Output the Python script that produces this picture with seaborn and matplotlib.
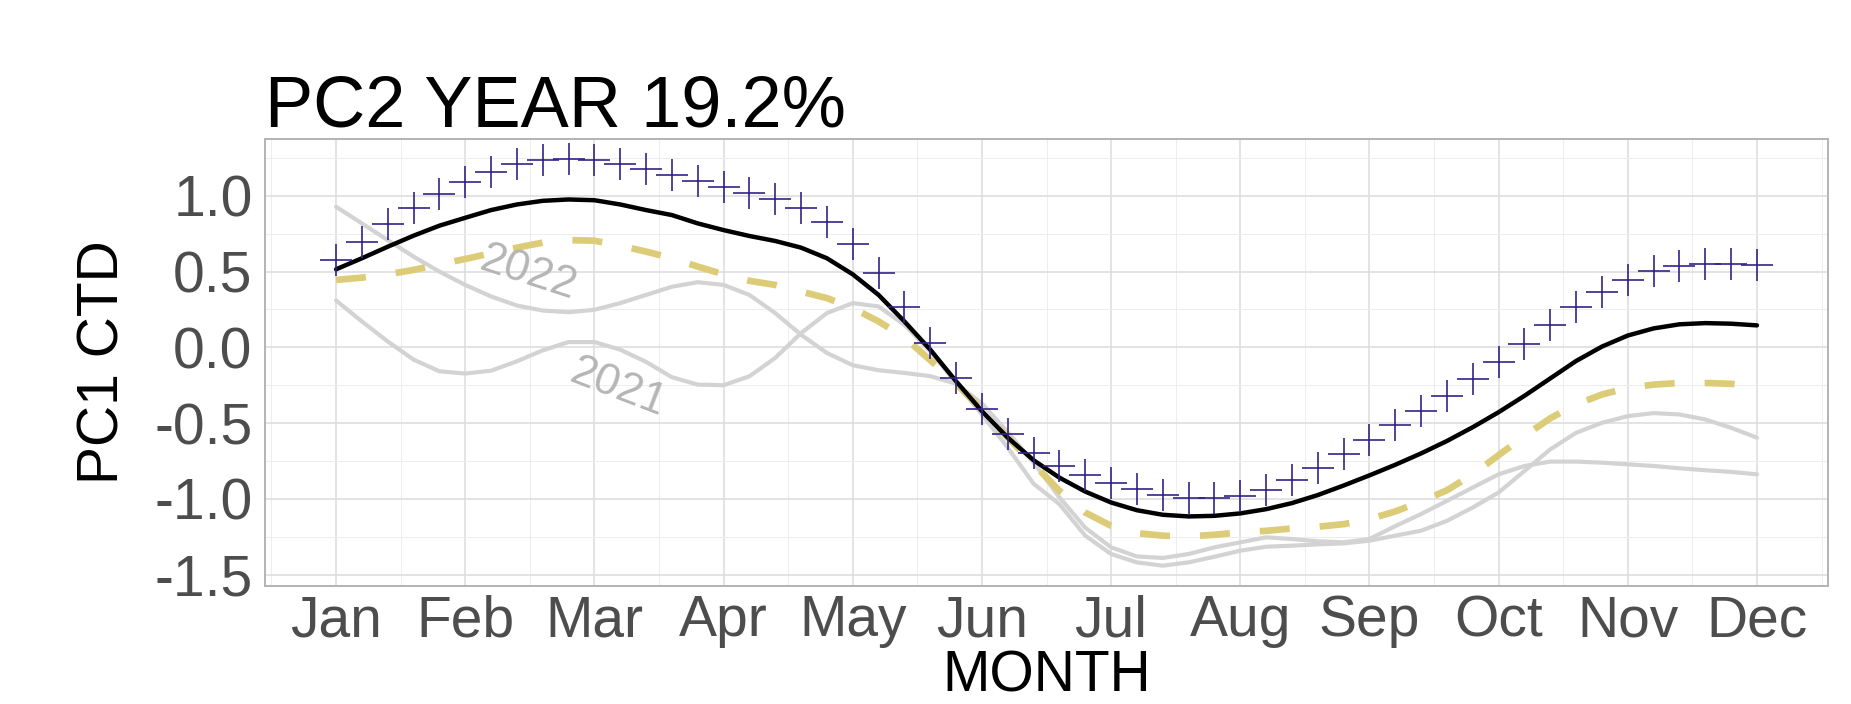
import numpy as np
import pandas as pd
import matplotlib
matplotlib.use("Agg")
import matplotlib.pyplot as plt
import seaborn as sns
from matplotlib.ticker import MultipleLocator

# month positions, 5 samples per month
month = np.round(np.arange(1, 12.01, 0.2), 1)
month_labels = ['Jan', 'Feb', 'Mar', 'Apr', 'May', 'Jun',
                'Jul', 'Aug', 'Sep', 'Oct', 'Nov', 'Dec']

# purple crosses
pc_cross = [0.577, 0.693, 0.811, 0.917, 1.011, 1.092, 1.158, 1.208, 1.235, 1.241,
            1.235, 1.213, 1.180, 1.140, 1.099, 1.059, 1.022, 0.976, 0.921, 0.829,
            0.684, 0.489, 0.265, 0.031, -0.202, -0.404, -0.570, -0.695, -0.783, -0.844,
            -0.893, -0.936, -0.974, -0.991, -0.991, -0.980, -0.941, -0.877, -0.794, -0.706,
            -0.612, -0.513, -0.421, -0.318, -0.206, -0.096, 0.022, 0.145, 0.265, 0.368,
            0.447, 0.504, 0.539, 0.553, 0.550, 0.546]

# black mean line
pc_mean = [0.515, 0.588, 0.664, 0.737, 0.803, 0.855, 0.906, 0.943, 0.967, 0.976,
           0.971, 0.943, 0.906, 0.873, 0.818, 0.774, 0.735, 0.702, 0.658, 0.588,
           0.482, 0.346, 0.171, -0.015, -0.224, -0.421, -0.596, -0.745, -0.860, -0.952,
           -1.024, -1.075, -1.105, -1.116, -1.112, -1.096, -1.068, -1.028, -0.975, -0.912,
           -0.845, -0.775, -0.700, -0.618, -0.527, -0.428, -0.320, -0.205, -0.090, 0.005,
           0.078, 0.125, 0.152, 0.160, 0.156, 0.145]

# yellow dashed line
pc_dash = [0.445, 0.460, 0.482, 0.511, 0.548, 0.583, 0.621, 0.658, 0.691, 0.708,
           0.704, 0.671, 0.632, 0.588, 0.533, 0.482, 0.439, 0.412, 0.368, 0.325,
           0.259, 0.171, 0.065, -0.085, -0.240, -0.410, -0.596, -0.770, -0.947, -1.090,
           -1.178, -1.226, -1.243, -1.248, -1.237, -1.221, -1.211, -1.195, -1.184, -1.167,
           -1.134, -1.083, -1.018, -0.943, -0.838, -0.712, -0.585, -0.468, -0.377, -0.311,
           -0.268, -0.246, -0.235, -0.235, -0.241, -0.257]

# grey yearly lines
y2022 = [0.928, 0.818, 0.708, 0.599, 0.500, 0.412, 0.336, 0.276, 0.243, 0.232,
         0.248, 0.292, 0.346, 0.400, 0.430, 0.412, 0.346, 0.226, 0.083, -0.037,
         -0.118, -0.151, -0.169, -0.190, -0.240, -0.370, -0.560, -0.760, -0.990, -1.190,
         -1.320, -1.380, -1.390, -1.364, -1.320, -1.287, -1.254, -1.265, -1.280, -1.287,
         -1.265, -1.180, -1.100, -1.013, -0.925, -0.838, -0.783, -0.754, -0.754, -0.761,
         -0.772, -0.783, -0.798, -0.811, -0.822, -0.838]
y2021 = [0.309, 0.171, 0.039, -0.081, -0.158, -0.173, -0.154, -0.092, -0.020, 0.035,
         0.035, -0.015, -0.096, -0.197, -0.246, -0.250, -0.191, -0.070, 0.094, 0.226,
         0.292, 0.270, 0.149, -0.026, -0.235, -0.443, -0.662, -0.900, -1.035, -1.243,
         -1.364, -1.419, -1.441, -1.419, -1.382, -1.342, -1.316, -1.309, -1.300, -1.294,
         -1.276, -1.243, -1.210, -1.145, -1.057, -0.958, -0.816, -0.673, -0.564, -0.498,
         -0.454, -0.434, -0.443, -0.476, -0.531, -0.596]

df = pd.DataFrame({'month': month, 'cross': pc_cross, 'mean': pc_mean,
                   'dash': pc_dash, '2022': y2022, '2021': y2021})

sns.set_theme(style='white')
plt.rcParams['font.family'] = ['Liberation Sans', 'DejaVu Sans']

fig = plt.figure(figsize=(18.51, 7.04), dpi=100)
ax = fig.add_axes([265 / 1851, 1 - 586 / 704, 1563 / 1851, 447 / 704])

grey_line = '#D3D3D3'
for yr in ['2022', '2021']:
    sns.lineplot(data=df, x='month', y=yr, ax=ax, color=grey_line, linewidth=3.0,
                 zorder=3)
sns.lineplot(data=df, x='month', y='dash', ax=ax, color='#DDCC77', linewidth=4.8,
             linestyle=(0, (4.5, 4.5)), zorder=4)
sns.lineplot(data=df, x='month', y='mean', ax=ax, color='black', linewidth=3.2,
             zorder=5)
sns.scatterplot(data=df, x='month', y='cross', ax=ax, marker='+', s=560,
                color='#332288', linewidth=1.2, zorder=6)

# year labels along the grey lines
ax.text(2.49, 0.489, '2022', color='#B5B5B5', fontsize=32, rotation=-18,
        ha='center', va='center', rotation_mode='anchor', zorder=7)
ax.text(3.18, -0.265, '2021', color='#B5B5B5', fontsize=32, rotation=-21,
        ha='center', va='center', rotation_mode='anchor', zorder=7)

# limits with 5% expansion like ggplot
all_y = np.concatenate([pc_cross, pc_mean, pc_dash, y2022, y2021])
ypad = 0.05 * (all_y.max() - all_y.min())
ax.set_ylim(all_y.min() - ypad, all_y.max() + ypad)
ax.set_xlim(1 - 0.55, 12 + 0.55)

ax.set_xticks(range(1, 13))
ax.set_xticklabels(month_labels)
yt = [-1.5, -1.0, -0.5, 0.0, 0.5, 1.0]
ax.set_yticks(yt)
ax.set_yticklabels([f'{v:.1f}' for v in yt])
ax.xaxis.set_minor_locator(MultipleLocator(0.5))
ax.yaxis.set_minor_locator(MultipleLocator(0.25))

ax.grid(which='major', color='#DEDEDE', linewidth=1.2, zorder=0)
ax.grid(which='minor', color='#EDEDED', linewidth=0.7, zorder=0)
ax.set_axisbelow(True)
for sp in ax.spines.values():
    sp.set_color('#B3B3B3')
    sp.set_linewidth(1.4)
    sp.set_visible(True)

ax.tick_params(axis='both', which='major', labelsize=41, labelcolor='#4D4D4D',
               color='#B3B3B3', length=5, width=1.0, direction='out')
ax.tick_params(axis='x', pad=1)
ax.tick_params(axis='y', pad=4)
ax.tick_params(which='minor', length=0)

ax.set_xlabel('MONTH', fontsize=41, color='black')
ax.set_ylabel('PC1 CTD', fontsize=41, color='black')
ax.xaxis.set_label_coords(0.5, -0.142)
ax.yaxis.set_label_coords(-0.086, 0.5)
ax.set_title('PC2 YEAR 19.2%', loc='left', fontsize=52, color='black', pad=9)

fig.savefig('out.png', dpi=100)
